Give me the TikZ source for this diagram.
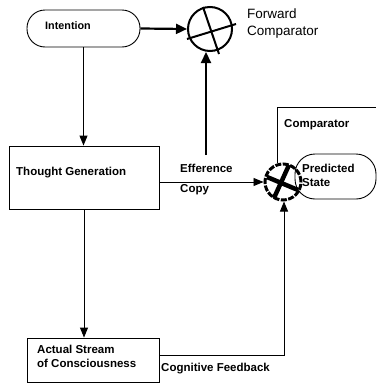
\documentclass[tikz,border=0pt]{standalone}
\usepackage{fontspec}
\setmainfont{Liberation Sans}
\usetikzlibrary{arrows.meta,calc}
\begin{document}
\begin{tikzpicture}[x=1pt,y=-1pt,
  thinline/.style={line width=0.9pt},
  thickline/.style={line width=2.2pt},
  thinarrow/.style={thinline,-{Triangle[length=10pt,width=8pt]}},
  thickarrow/.style={thickline,-{Triangle[length=11pt,width=10pt]}},
  boxnode/.style={draw,thinline,rectangle,inner sep=0pt},
  roundnode/.style={draw,thinline,rectangle,rounded corners=18pt,inner sep=0pt},
  lbl/.style={font=\bfseries\fontsize{11.5}{14}\selectfont,anchor=west,inner sep=0pt,align=left},
  biglbl/.style={font=\fontsize{13.5}{17}\selectfont,anchor=north west,inner sep=0pt,align=left}
]
\path[use as bounding box,fill=white] (0,0) rectangle (376,383);

% nodes
\node[roundnode,minimum width=113pt,minimum height=37pt] (intent) at (83.5,28.5) {};
\node[lbl,font=\bfseries\fontsize{10.8}{13}\selectfont] (intenttxt) at (45,26) {Intention};

\node[circle,draw,line width=2pt,minimum size=44pt,inner sep=0pt] (fc) at (210,29) {};
\draw[line width=2pt] ([shift={(-23,10)}]fc.center) -- ([shift={(26,-5)}]fc.center);
\draw[line width=2pt] ([shift={(-7,-22)}]fc.center) -- ([shift={(9,25)}]fc.center);
\node[biglbl] (fctxt) at (247,9) {Forward\\Comparator};

\node[boxnode,minimum width=150pt,minimum height=63pt] (thought) at (84,177.5) {};
\node[lbl] (thoughttxt) at (16,173) {Thought Generation};

\node[boxnode,minimum width=132pt,minimum height=44pt] (actual) at (93,360) {};
\node[lbl] (actualtxt) at (37,356) {Actual Stream\\of Consciousness};

\node[roundnode,rounded corners=20pt,minimum width=81pt,minimum height=45pt,fill=white] (pred) at (335.5,176.5) {};
\node[lbl] (predtxt) at (302,175) {Predicted\\State};

\node[circle,draw,line width=3pt,dash pattern=on 6pt off 1.5pt,minimum size=36pt,inner sep=0pt] (cmp) at (283,182) {};
\draw[line width=4.5pt] ([shift={(-16,-5)}]cmp.center) -- ([shift={(15,8)}]cmp.center);
\draw[line width=4.5pt] ([shift={(6,-17)}]cmp.center) -- ([shift={(-9,16)}]cmp.center);

\node[lbl] (cmptxt) at (284,125) {Comparator};
\node[lbl] (efftxt) at (180,168) {Efference};
\node[lbl] (copytxt) at (180,190) {Copy};
\node[lbl] (fbtxt) at (161,369) {Cognitive Feedback};

% coordinates
\coordinate (effup) at (206,155);
\coordinate (brk) at (277,107);
\coordinate (brkend) at (376,107);
\coordinate (fbc) at (284,355);

% connectors
\draw[thickarrow] (intent.east) -- (fc.west);
\draw[thickarrow] (effup) -- (effup |- fc.south);
\draw[thinarrow] (intent.south) -- (intent.south |- thought.north);
\draw[thinarrow] (thought.south) -- (thought.south |- actual.north);
\draw[thinarrow] (thought.east |- cmp.west) -- (cmp.west);
\draw[thinline] (cmp.north -| brk) -- (brk) -- (brkend);
\draw[thinarrow] (actual.east |- fbc) -- (fbc) -- (fbc |- cmp.south);
\end{tikzpicture}
\end{document}
